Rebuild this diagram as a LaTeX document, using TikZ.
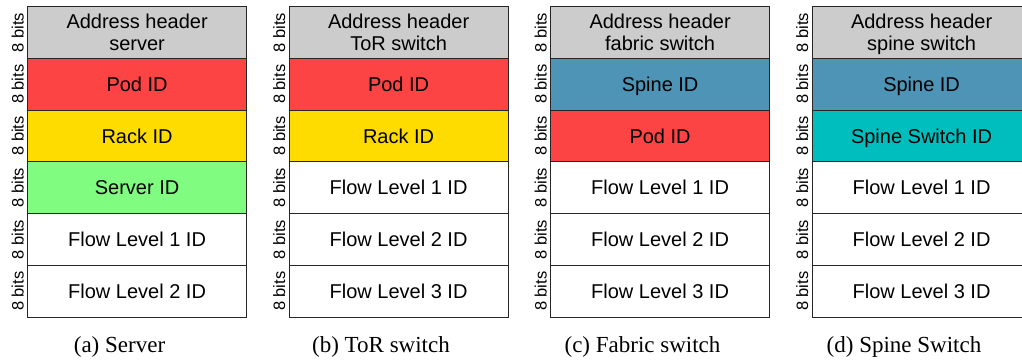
\documentclass[tikz,border=0pt]{standalone}
\usepackage{fontspec}
\setmainfont{Liberation Serif}
\setsansfont{Liberation Sans}
\definecolor{hdrgray}{HTML}{CCCCCC}
\definecolor{podred}{HTML}{FC4444}
\definecolor{rackyellow}{HTML}{FEDC00}
\definecolor{servergreen}{HTML}{80FC80}
\definecolor{spineblue}{HTML}{4D94B7}
\definecolor{switchteal}{HTML}{00BEBE}
\definecolor{edgecol}{HTML}{262626}

\tikzset{
  fieldcell/.style={draw=edgecol, line width=1.2pt, inner sep=0pt,
    minimum width=219pt, minimum height=51.75pt, anchor=north west},
  fieldtext/.style={font=\sffamily\fontsize{20}{22}\selectfont, inner sep=0pt, anchor=base},
  bitslabel/.style={font=\sffamily\fontsize{16.5}{18}\selectfont, inner sep=0pt,
    rotate=90, anchor=base},
  captiontext/.style={font=\rmfamily\fontsize{23}{26}\selectfont, inner sep=0pt, anchor=base}
}

% one 8-bit field: #1 column, #2 row, #3 fill colour, #4 label
\newcommand{\fieldbox}[4]{%
  \pgfmathsetmacro\fx{27+261.5*#1}%
  \pgfmathsetmacro\fy{6+51.75*#2}%
  \node[fieldcell, fill=#3] (f#1#2) at (\fx,\fy) {};
  \node[fieldtext] (t#1#2) at ([yshift=-7.2pt]f#1#2.center) {#4};
  \node[bitslabel] (b#1#2) at ([xshift=-3.5pt]f#1#2.west) {8 bits};
}
% header field with two text lines: #1 column, #2 second line
\newcommand{\headerbox}[2]{%
  \pgfmathsetmacro\fx{27+261.5*#1}%
  \node[fieldcell, fill=hdrgray] (f#10) at (\fx,6) {};
  \node[fieldtext] (h#1a) at ([yshift=3.6pt]f#10.center) {Address header};
  \node[fieldtext] (h#1b) at ([yshift=-18.4pt]f#10.center) {#2};
  \node[bitslabel] (b#10) at ([xshift=-3.5pt]f#10.west) {8 bits};
}

\begin{document}
\begin{tikzpicture}[x=1pt,y=-1pt]
\useasboundingbox (0,0) rectangle (1022,361);
\clip (0,0) rectangle (1022,361);

% (a) server
\headerbox{0}{server}
\fieldbox{0}{1}{podred}{Pod ID}
\fieldbox{0}{2}{rackyellow}{Rack ID}
\fieldbox{0}{3}{servergreen}{Server ID}
\fieldbox{0}{4}{white}{Flow Level 1 ID}
\fieldbox{0}{5}{white}{Flow Level 2 ID}

% (b) ToR switch
\headerbox{1}{ToR switch}
\fieldbox{1}{1}{podred}{Pod ID}
\fieldbox{1}{2}{rackyellow}{Rack ID}
\fieldbox{1}{3}{white}{Flow Level 1 ID}
\fieldbox{1}{4}{white}{Flow Level 2 ID}
\fieldbox{1}{5}{white}{Flow Level 3 ID}

% (c) fabric switch
\headerbox{2}{fabric switch}
\fieldbox{2}{1}{spineblue}{Spine ID}
\fieldbox{2}{2}{podred}{Pod ID}
\fieldbox{2}{3}{white}{Flow Level 1 ID}
\fieldbox{2}{4}{white}{Flow Level 2 ID}
\fieldbox{2}{5}{white}{Flow Level 3 ID}

% (d) spine switch
\headerbox{3}{spine switch}
\fieldbox{3}{1}{spineblue}{Spine ID}
\fieldbox{3}{2}{switchteal}{Spine Switch ID}
\fieldbox{3}{3}{white}{Flow Level 1 ID}
\fieldbox{3}{4}{white}{Flow Level 2 ID}
\fieldbox{3}{5}{white}{Flow Level 3 ID}

% captions
\node[captiontext] (capa) at (119.5,352) {(a) Server};
\node[captiontext] (capb) at (381,352) {(b) ToR switch};
\node[captiontext] (capc) at (642.5,352) {(c) Fabric switch};
\node[captiontext] (capd) at (904,352) {(d) Spine Switch};
\end{tikzpicture}
\end{document}
